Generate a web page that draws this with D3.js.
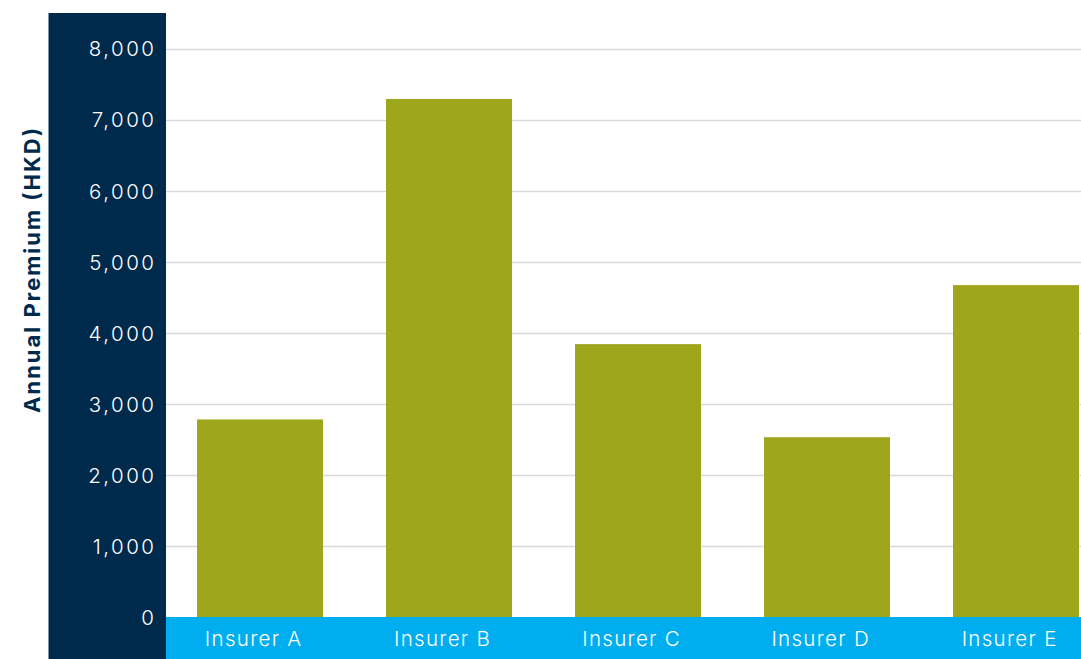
<!DOCTYPE html>
<html>
<head>
<meta charset="utf-8">
<script src="https://cdn.jsdelivr.net/npm/d3@7"></script>
<style>
  html, body { margin: 0; padding: 0; background: #fff; }
  svg { display: block; }
</style>
</head>
<body>
<svg id="chart" width="1081" height="659"></svg>
<script>
// Annual premium quotes by insurer (HKD)
const insurers = ["Insurer A", "Insurer B", "Insurer C", "Insurer D", "Insurer E"];
const premiums = [2780, 7290, 3840, 2530, 4670];
const yTicks = [0, 1000, 2000, 3000, 4000, 5000, 6000, 7000, 8000];
const yTitle = "Annual Premium (HKD)";

const W = 1081, H = 659;
const svg = d3.select("#chart");

const plotLeft = 166, plotTop = 13, zeroY = 617;
const navy = "#002a4b", olive = "#9ea61c", sky = "#00aeef", grid = "#d9d9d9";

const y = d3.scaleLinear().domain([0, 8000]).range([zeroY, 48.5]);
const x = d3.scaleBand().domain(insurers).range([plotLeft, 1110])
  .paddingInner(1 / 3).paddingOuter(0.164);

// dark band behind the value axis
svg.append("rect").attr("x", 48.5).attr("y", plotTop)
  .attr("width", plotLeft - 48.5).attr("height", H - plotTop).attr("fill", navy);

// horizontal gridlines
svg.append("g").selectAll("line").data(yTicks.filter(d => d > 0)).join("line")
  .attr("x1", plotLeft).attr("x2", W)
  .attr("y1", d => Math.round(y(d)) + 0.5).attr("y2", d => Math.round(y(d)) + 0.5)
  .attr("stroke", grid).attr("stroke-width", 1.3);

// bars
svg.append("g").selectAll("rect").data(premiums).join("rect")
  .attr("x", (d, i) => x(insurers[i]))
  .attr("width", x.bandwidth())
  .attr("y", d => y(d))
  .attr("height", d => zeroY - y(d))
  .attr("fill", olive);

// category strip
svg.append("rect").attr("x", plotLeft).attr("y", zeroY)
  .attr("width", W - plotLeft).attr("height", H - zeroY).attr("fill", sky);

const font = "Inter, 'Open Sans', sans-serif";
const tickSpacing = 2.5, catSpacing = 1.3;

// value axis
const yAxis = svg.append("g").attr("transform", `translate(${154 + tickSpacing},0)`)
  .call(d3.axisLeft(y).tickValues(yTicks).tickFormat(d3.format(",")).tickSize(0).tickPadding(0));
yAxis.select(".domain").remove();
yAxis.selectAll("text").attr("fill", "#ffffff").attr("font-family", font)
  .attr("font-size", 20.5).attr("font-weight", 300).attr("letter-spacing", tickSpacing)
  .attr("dy", "0.36em");

// category axis
const xAxis = svg.append("g").attr("transform", `translate(0,${zeroY + 28.5})`)
  .call(d3.axisBottom(x).tickSize(0).tickPadding(0));
xAxis.select(".domain").remove();
xAxis.selectAll("text").attr("fill", "#ffffff").attr("font-family", font)
  .attr("font-size", 20.5).attr("font-weight", 300).attr("letter-spacing", catSpacing)
  .attr("dx", -7 + catSpacing / 2).attr("dy", 0);

// axis title
svg.append("text")
  .attr("transform", `translate(40,${270.5}) rotate(-90)`)
  .attr("text-anchor", "middle")
  .attr("fill", navy).attr("font-family", font)
  .attr("font-size", 22).attr("font-weight", 700)
  .attr("textLength", 285).attr("lengthAdjust", "spacing")
  .text(yTitle);
</script>
</body>
</html>
